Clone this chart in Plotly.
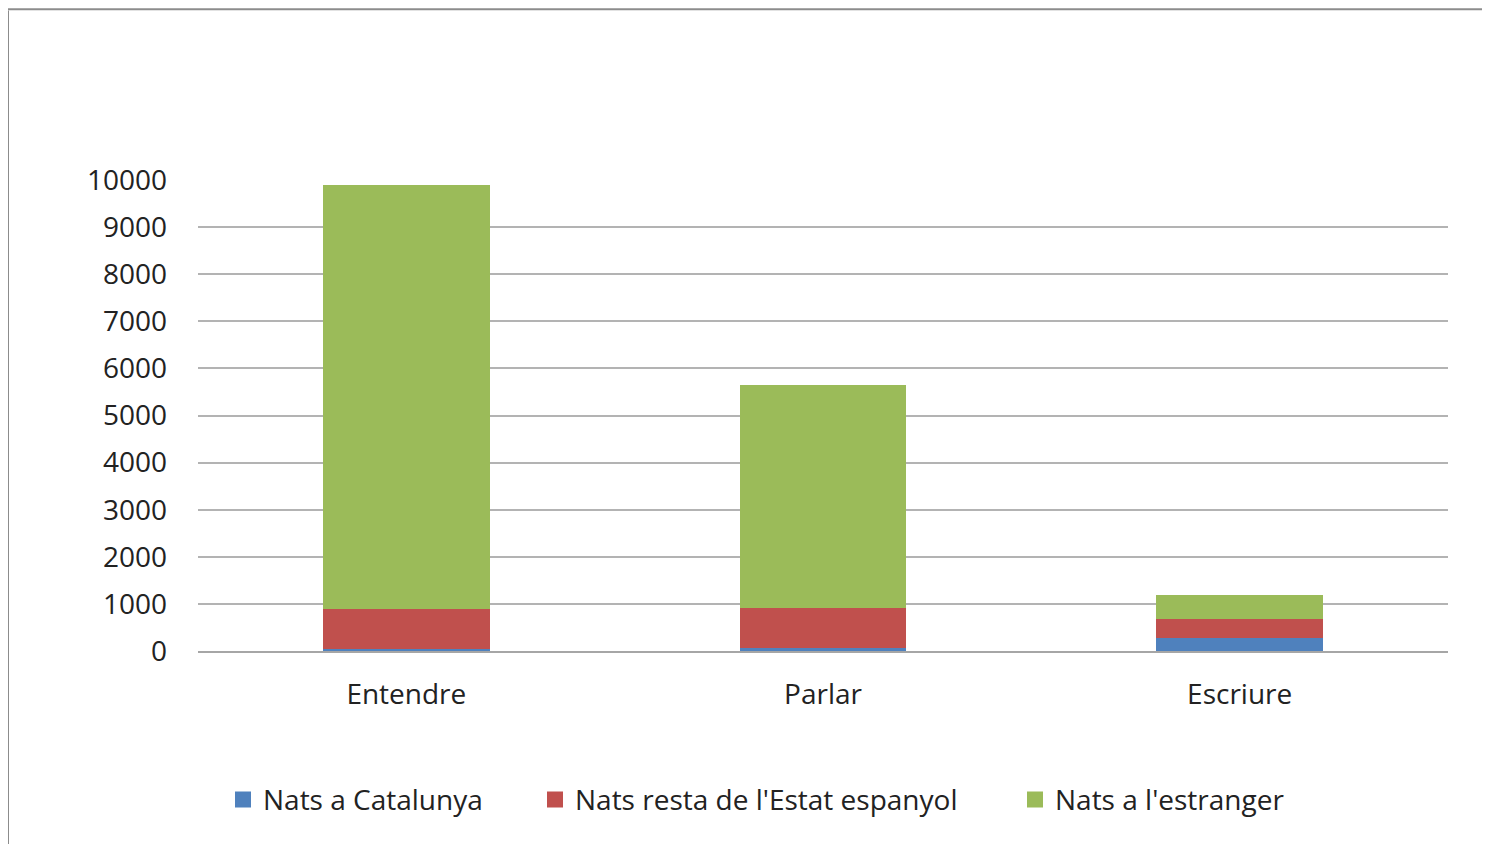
import plotly.graph_objects as go

categories = ["Entendre", "Parlar", "Escriure"]
series_names = ["Nats a Catalunya", "Nats resta de l'Estat espanyol", "Nats a l'estranger"]
catalunya = [40, 70, 280]
resta_estat = [850, 840, 390]
estranger = [9010, 4740, 510]

COLORS = ["#4f81bd", "#c0504d", "#9bbb59"]
FONT = "Open Sans, Noto Sans, sans-serif"
LEGEND_X = [0.02, 0.2696, 0.6536]

fig = go.Figure()
for name, values, color in zip(series_names, [catalunya, resta_estat, estranger], COLORS):
    fig.add_trace(
        go.Bar(
            x=categories,
            y=values,
            name=name,
            marker=dict(color=color, line=dict(width=0)),
            showlegend=False,
        )
    )
# legend entries with bigger square swatches, one legend each so the spacing can follow the original
legend_ids = ["legend", "legend2", "legend3"]
for name, color, lid in zip(series_names, COLORS, legend_ids):
    fig.add_trace(
        go.Scatter(
            x=[None],
            y=[None],
            mode="markers",
            name=name,
            legend=lid,
            marker=dict(symbol="square", size=16, color=color),
        )
    )

# outer chart frame (partially visible in the screenshot)
fig.add_shape(type="line", xref="paper", yref="paper", x0=-0.152, x1=-0.152, y0=1.36, y1=-0.5,
              line=dict(color="#8c8c8c", width=2))
fig.add_shape(type="line", xref="paper", yref="paper", x0=-0.152, x1=1.1, y0=1.3625, y1=1.3625,
              line=dict(color="#8c8c8c", width=2))

legend_style = dict(
    orientation="h",
    xanchor="left",
    y=-0.316,
    yanchor="middle",
    font=dict(size=28),
    bgcolor="rgba(0,0,0,0)",
)

fig.update_layout(
    width=1490,
    height=844,
    barmode="stack",
    bargap=0.6,
    plot_bgcolor="white",
    paper_bgcolor="white",
    margin=dict(l=190, r=50, t=172, b=201),
    font=dict(family=FONT, size=28, color="#222222"),
    showlegend=True,
    legend=dict(x=LEGEND_X[0], **legend_style),
    legend2=dict(x=LEGEND_X[1], **legend_style),
    legend3=dict(x=LEGEND_X[2], **legend_style),
)
fig.update_xaxes(
    showgrid=False,
    showline=True,
    linecolor="#a6a6a6",
    linewidth=2,
    ticks="",
    ticklabelstandoff=17,
)
fig.update_yaxes(
    range=[0, 10000],
    dtick=1000,
    tickformat="d",
    showgrid=True,
    gridcolor="#b3b3b3",
    gridwidth=2,
    zeroline=False,
    showline=False,
    ticks="",
    ticklabelstandoff=30,
)

fig.write_html("out.html")
